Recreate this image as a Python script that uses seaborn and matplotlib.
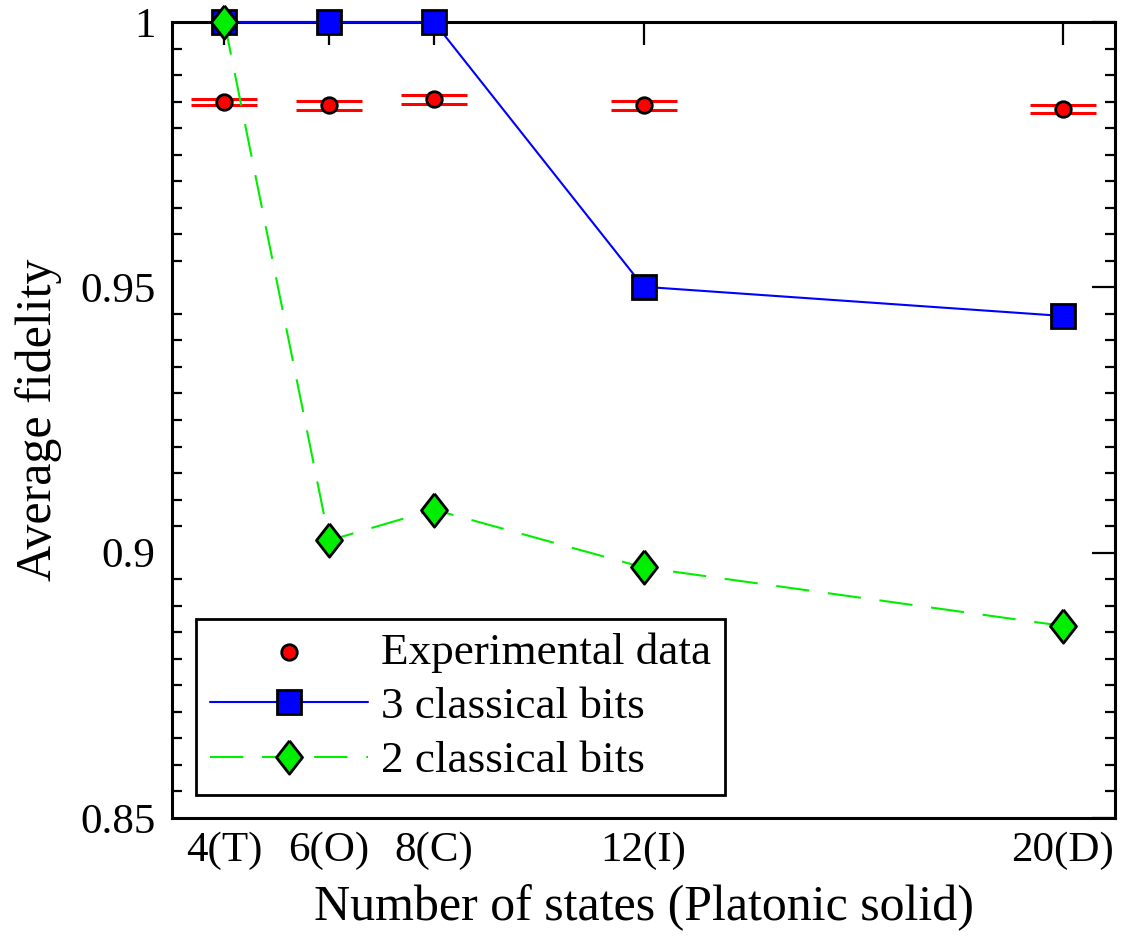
import numpy as np
import pandas as pd
import matplotlib
matplotlib.use("Agg")
import matplotlib.pyplot as plt
from matplotlib.ticker import MultipleLocator, FixedLocator
import seaborn as sns

# ---- data ----
n_states = [4, 6, 8, 12, 20]
tick_labels = ["4(T)", "6(O)", "8(C)", "12(I)", "20(D)"]
exp_fidelity = [0.9849, 0.9843, 0.9854, 0.9843, 0.9836]
exp_error = [0.0005, 0.0008, 0.0008, 0.0008, 0.0008]
bits3 = [1.0, 1.0, 1.0, 0.9501, 0.9446]
bits2 = [1.0, 0.9023, 0.9081, 0.8972, 0.8862]

df = pd.DataFrame({"n": n_states, "exp": exp_fidelity, "err": exp_error,
                   "b3": bits3, "b2": bits2})

sns.set_theme(style="white")
plt.rcParams["font.family"] = ["Liberation Serif", "DejaVu Serif"]
for k in ["text.color", "axes.labelcolor", "xtick.color", "ytick.color"]:
    plt.rcParams[k] = "black"

FS = 31
LFS = 36
LEGFS = 32.5
fig = plt.figure(figsize=(11.22, 9.39), dpi=100)
ax = fig.add_axes([0.1533, 0.1289, 0.8405, 0.8477])

ax.errorbar(df["n"], df["exp"], yerr=df["err"], fmt="none", ecolor="red",
            elinewidth=2, capsize=24, capthick=2.2, zorder=2)
sns.scatterplot(data=df, x="n", y="exp", ax=ax, color="red", s=125,
                edgecolor="black", linewidth=2, zorder=3, label="Experimental data")
sns.lineplot(data=df, x="n", y="b3", ax=ax, color="blue", lw=1.5,
             marker="s", markersize=17, markerfacecolor="blue",
             markeredgecolor="black", markeredgewidth=2, zorder=4,
             label="3 classical bits", clip_on=False)
diamond = [(0, 1), (0.78, 0), (0, -1), (-0.78, 0), (0, 1)]
sns.lineplot(data=df, x="n", y="b2", ax=ax, color="#00ee00", lw=1.5,
             linestyle=(0, (16, 9)),
             marker=diamond, markersize=24, markerfacecolor="#00ee00",
             markeredgecolor="black", markeredgewidth=2, zorder=5,
             label="2 classical bits", clip_on=False)

ax.set_xlim(3, 21)
ax.set_ylim(0.85, 1.0)
ax.xaxis.set_major_locator(FixedLocator(n_states))
ax.set_xticklabels(tick_labels)
ax.set_yticks([0.85, 0.9, 0.95, 1.0])
ax.set_yticklabels(["0.85", "0.9", "0.95", "1"])
ax.yaxis.set_minor_locator(MultipleLocator(0.005))

ax.tick_params(axis="both", which="major", direction="in", length=16.5,
               width=1.6, labelsize=FS, color="black", top=True, right=True,
               pad=10)
ax.tick_params(axis="y", which="minor", direction="in", length=7.5,
               width=1.6, left=True, right=True, color="black")
ax.tick_params(axis="y", which="major", pad=12)

for sp in ax.spines.values():
    sp.set_color("black")
    sp.set_linewidth(2.2)

ax.set_xlabel("Number of states (Platonic solid)", fontsize=LFS, labelpad=10)
ax.set_ylabel("Average fidelity", fontsize=LFS, labelpad=13)

handles, labels = ax.get_legend_handles_labels()
leg = ax.legend(handles, labels, loc="lower left",
                bbox_to_anchor=(0.0255, 0.0289), borderaxespad=0,
                fontsize=LEGFS, frameon=True, fancybox=False, framealpha=1,
                edgecolor="black", handlelength=3.5, handletextpad=0.3,
                borderpad=0.3, labelspacing=0.3, scatterpoints=1, numpoints=1)
leg.get_frame().set_linewidth(2)

fig.savefig("out.png", dpi=100)
